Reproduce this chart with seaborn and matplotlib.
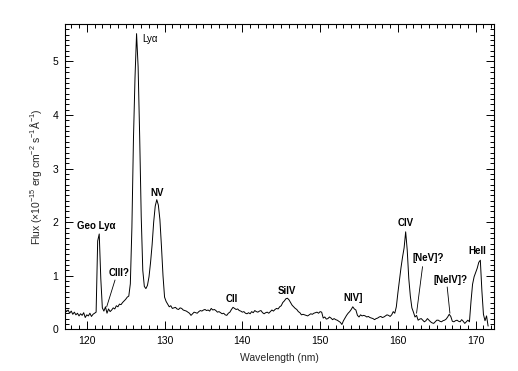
import numpy as np
import pandas as pd
import seaborn as sns
import matplotlib.pyplot as plt
from matplotlib.ticker import MultipleLocator

wave_start = 117.2
wave_step = 0.2
flux = [
    0.38, 0.33, 0.36, 0.30, 0.34, 0.28, 0.32, 0.27, 0.30, 0.25,   # 117.2
    0.29, 0.26, 0.31, 0.22, 0.27, 0.25, 0.30, 0.24, 0.28, 0.30,   # 119.2
    0.32, 1.65, 1.78, 0.95, 0.40, 0.34, 0.42, 0.30, 0.38, 0.33,   # 121.2
    0.36, 0.40, 0.38, 0.44, 0.42, 0.47, 0.46, 0.50, 0.53, 0.56,   # 123.2
    0.60, 0.62, 0.85, 1.90, 3.55, 4.70, 5.52, 4.90, 3.60, 2.10,   # 125.2
    1.10, 0.80, 0.76, 0.82, 0.98, 1.25, 1.58, 2.00, 2.30, 2.42,   # 127.2
    2.32, 2.05, 1.55, 1.00, 0.60, 0.52, 0.47, 0.42, 0.44, 0.39,   # 129.2
    0.40, 0.41, 0.38, 0.37, 0.40, 0.39, 0.36, 0.35, 0.34, 0.32,   # 131.2
    0.30, 0.26, 0.29, 0.32, 0.31, 0.30, 0.33, 0.35, 0.34, 0.36,   # 133.2
    0.37, 0.35, 0.36, 0.34, 0.39, 0.36, 0.37, 0.35, 0.32, 0.33,   # 135.2
    0.31, 0.29, 0.30, 0.27, 0.26, 0.30, 0.32, 0.37, 0.41, 0.39,   # 137.2
    0.37, 0.38, 0.35, 0.34, 0.32, 0.33, 0.30, 0.29, 0.31, 0.29,   # 139.2
    0.33, 0.31, 0.35, 0.33, 0.32, 0.34, 0.35, 0.31, 0.29, 0.31,   # 141.2
    0.32, 0.30, 0.33, 0.36, 0.34, 0.37, 0.39, 0.38, 0.42, 0.44,   # 143.2
    0.50, 0.53, 0.57, 0.58, 0.55, 0.50, 0.45, 0.42, 0.39, 0.37,   # 145.2
    0.33, 0.31, 0.27, 0.28, 0.27, 0.26, 0.25, 0.27, 0.29, 0.28,   # 147.2
    0.30, 0.31, 0.32, 0.30, 0.33, 0.32, 0.21, 0.23, 0.19, 0.20,   # 149.2
    0.23, 0.21, 0.18, 0.20, 0.18, 0.17, 0.15, 0.13, 0.09, 0.16,   # 151.2
    0.21, 0.26, 0.30, 0.33, 0.37, 0.42, 0.38, 0.36, 0.26, 0.23,   # 153.2
    0.27, 0.25, 0.26, 0.25, 0.23, 0.24, 0.22, 0.21, 0.20, 0.18,   # 155.2
    0.20, 0.21, 0.23, 0.24, 0.22, 0.23, 0.25, 0.27, 0.26, 0.24,   # 157.2
    0.27, 0.33, 0.30, 0.42, 0.68, 0.92, 1.15, 1.35, 1.52, 1.82,   # 159.2
    1.48, 0.95, 0.62, 0.40, 0.32, 0.23, 0.26, 0.17, 0.19, 0.20,   # 161.2
    0.17, 0.14, 0.16, 0.20, 0.17, 0.14, 0.12, 0.11, 0.14, 0.17,   # 163.2
    0.17, 0.15, 0.14, 0.16, 0.17, 0.19, 0.23, 0.28, 0.24, 0.15,   # 165.2
    0.14, 0.16, 0.17, 0.15, 0.14, 0.18, 0.15, 0.11, 0.14, 0.17,   # 167.2
    0.14, 0.52, 0.84, 0.98, 1.06, 1.14, 1.25, 1.29, 0.72, 0.28,   # 169.2
    0.16, 0.25, 0.06,                                             # 171.2
]
wave = np.round(wave_start + wave_step * np.arange(len(flux)), 1)

# line identifications
line_names = ['Geo Ly\u03b1', 'CIII?', 'Ly\u03b1', 'NV', 'CII', 'SiIV', 'NIV]',
              'CIV', '[NeV]?', '[NeIV]?', 'HeII']
label_wave = [121.2, 124.1, 128.1, 129.06, 138.7, 145.73, 154.22,
              161.0, 163.96, 166.81, 170.22]
label_flux = [1.92, 1.05, 5.42, 2.54, 0.56, 0.71, 0.58,
              1.99, 1.33, 0.92, 1.46]

# pointer lines (from label to feature)
pointer_wave = [(123.63, 122.56), (163.17, 162.4), (166.34, 166.69)]
pointer_flux = [(0.92, 0.42), (1.17, 0.30), (0.79, 0.30)]

df = pd.DataFrame({'wave': wave, 'flux': flux})

sns.set_theme(style='ticks')
plt.rcParams['font.family'] = ['Liberation Sans', 'DejaVu Sans']
plt.rcParams['mathtext.default'] = 'regular'

fig = plt.figure(figsize=(5.18, 3.71), dpi=100)
ax = fig.add_axes([0.1255, 0.1124, 0.8288, 0.8229])

sns.lineplot(data=df, x='wave', y='flux', color='black', linewidth=0.7, ax=ax)

for name, lx, ly in zip(line_names, label_wave, label_flux):
    weight = 'normal' if name == 'Ly\u03b1' else 'bold'
    ax.text(lx, ly, name, ha='center', va='center', fontsize=7,
            fontweight=weight, color='black')

for pw, pf in zip(pointer_wave, pointer_flux):
    ax.plot(pw, pf, color='black', linewidth=0.6)

ax.set_xlim(117.2, 172.4)
ax.set_ylim(0, 5.7)
ax.xaxis.set_major_locator(MultipleLocator(10))
ax.xaxis.set_minor_locator(MultipleLocator(1))
ax.yaxis.set_major_locator(MultipleLocator(1))
ax.yaxis.set_minor_locator(MultipleLocator(0.1))
ax.tick_params(which='both', direction='in', top=True, right=True,
               width=0.7, colors='black', labelsize=7.5)
ax.tick_params(which='major', length=6, pad=5)
ax.tick_params(which='minor', length=3)
for sp in ax.spines.values():
    sp.set_linewidth(0.8)
    sp.set_color('black')

ax.set_xlabel('Wavelength (nm)', fontsize=7.5, labelpad=5)
ax.set_ylabel('Flux (\u00d710$^{-15}$ erg cm$^{-2}$ s$^{-1}$\u00c5$^{-1}$)',
              fontsize=7.5, labelpad=6)

fig.savefig('out.png', dpi=100)
